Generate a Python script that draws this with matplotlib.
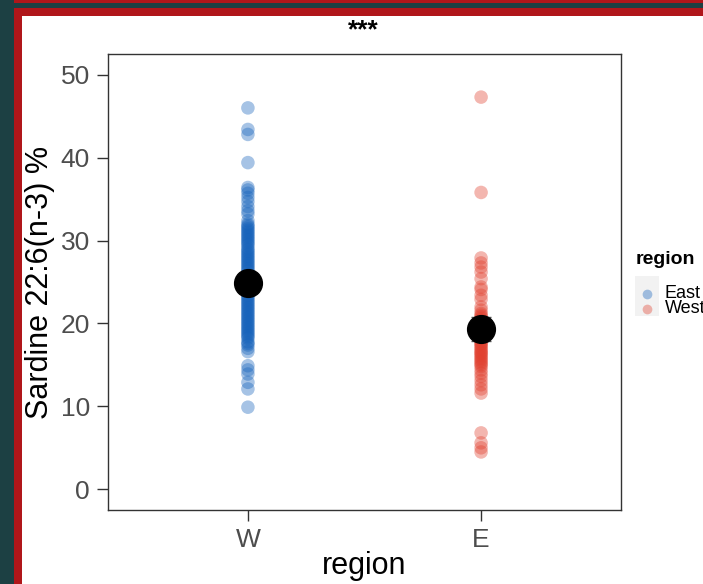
import matplotlib
matplotlib.use("Agg")
import matplotlib.pyplot as plt
from matplotlib.patches import Rectangle
from matplotlib.lines import Line2D

plt.rcParams["font.family"] = ["Liberation Sans", "DejaVu Sans"]

# data
categories = ["W", "E"]
w_values = [46.0, 43.4, 42.8, 39.4, 36.4, 36.1, 35.7, 35.2, 34.7, 34.1, 33.6,
            33.2, 32.4, 32.0, 31.8, 31.6, 31.4, 31.2, 31.0, 30.8, 30.6, 30.4,
            30.2, 30.0, 29.8, 29.6, 29.4, 29.1, 28.9, 28.7, 28.5, 28.3, 28.1,
            27.9, 27.7, 27.5, 27.3, 27.1, 26.9, 26.7, 26.5, 26.3, 25.9, 25.5,
            25.1, 24.6, 24.2, 23.8, 23.4, 23.2, 23.0, 22.8, 22.6, 22.4, 22.2,
            22.0, 21.8, 21.6, 21.4, 21.2, 21.0, 20.8, 20.6, 20.4, 20.2, 20.0,
            19.8, 19.6, 19.4, 19.2, 19.0, 18.8, 18.6, 18.4, 18.2, 17.8, 17.6,
            17.4, 17.0, 16.6, 14.9, 14.4, 13.9, 12.9, 12.1, 9.9]
e_values = [47.3, 35.8, 27.9, 27.3, 26.8, 26.2, 25.4, 24.4, 24.1, 23.4, 22.9,
            22.0, 21.6, 21.2, 21.0, 20.8, 20.6, 20.4, 20.2, 20.0, 19.8, 19.6,
            19.4, 19.2, 18.9, 18.7, 18.6, 18.4, 18.2, 18.0, 17.8, 17.6, 17.5,
            17.3, 17.1, 16.9, 16.7, 16.5, 16.4, 16.2, 16.0, 15.8, 15.6, 15.4,
            15.2, 15.0, 14.8, 14.4, 14.0, 13.6, 13.1, 12.6, 12.1, 11.6, 6.8,
            5.6, 5.0, 4.5]
group_means = [24.9, 19.3]
group_se = [1.0, 1.45]
legend_labels = ["East", "West"]

blue = "#1562bb"
red = "#e1402f"
pt_alpha = 0.38

W, H = 703, 584
fig = plt.figure(figsize=(W / 100, H / 100), dpi=100, facecolor="#1c4043")


def px_rect(x0, y0, x1, y1, color):
    # rectangle given in pixel coords from the top left
    fig.add_artist(Rectangle((x0 / W, 1 - y1 / H), (x1 - x0) / W, (y1 - y0) / H,
                             transform=fig.transFigure, facecolor=color,
                             edgecolor="none", zorder=-5))


# page frame
px_rect(14, 0, W, 3, "#b0161a")
px_rect(14, 8, W, H, "#b0161a")
px_rect(22, 16, W, H, "white")

ax = fig.add_axes([108 / W, 1 - 510 / H, (621 - 108) / W, (510 - 54) / H])
ax.set_facecolor("white")

ax.scatter([1] * len(w_values), w_values, s=95, color=blue, alpha=pt_alpha,
           edgecolors="none", zorder=2)
ax.scatter([2] * len(e_values), e_values, s=95, color=red, alpha=pt_alpha,
           edgecolors="none", zorder=2)

ax.errorbar([1, 2], group_means, yerr=group_se, fmt="none", ecolor="#555555",
            elinewidth=1, capsize=7, capthick=1, zorder=3)
ax.plot([1, 2], group_means, ls="None", marker="o", markersize=20,
        color="black", zorder=4)

ax.set_xlim(0.4, 2.6)
ax.set_ylim(-2.5, 52.5)
ax.set_xticks([1, 2])
ax.set_xticklabels(categories)
ax.set_yticks([0, 10, 20, 30, 40, 50])

for s in ax.spines.values():
    s.set_color("#333333")
    s.set_linewidth(1)
ax.tick_params(length=8, width=1, color="#333333", labelcolor="#4d4d4d",
               labelsize=19, pad=5)

ax.set_ylabel("Sardine 22:6(n-3) %", fontsize=22, color="black")
ax.set_xlabel("region", fontsize=22, color="black")
ax.yaxis.set_label_coords((55 - 108) / 513, 0.5)
ax.xaxis.set_label_coords(0.5, (510 - 551) / 456)

fig.text(363 / W, 1 - 30 / H, "***", ha="center", va="center",
         fontsize=19, fontweight="bold")

# legend drawn by hand to match the tight ggplot layout
fig.text(636 / W, 1 - 260 / H, "region", ha="left", va="center",
         fontsize=14, fontweight="bold")
px_rect(635, 276, 659, 316, "#f2f2f2")
for i, (lab, col) in enumerate(zip(legend_labels, [blue, red])):
    yy = 294 + i * 15
    fig.add_artist(Line2D([647 / W], [1 - yy / H], transform=fig.transFigure,
                          ls="None", marker="o", markersize=7, color=col,
                          alpha=pt_alpha, markeredgewidth=0))
    fig.text(665 / W, 1 - yy / H, lab, ha="left", va="center", fontsize=13)

fig.savefig("out.png", dpi=100, facecolor=fig.get_facecolor())
